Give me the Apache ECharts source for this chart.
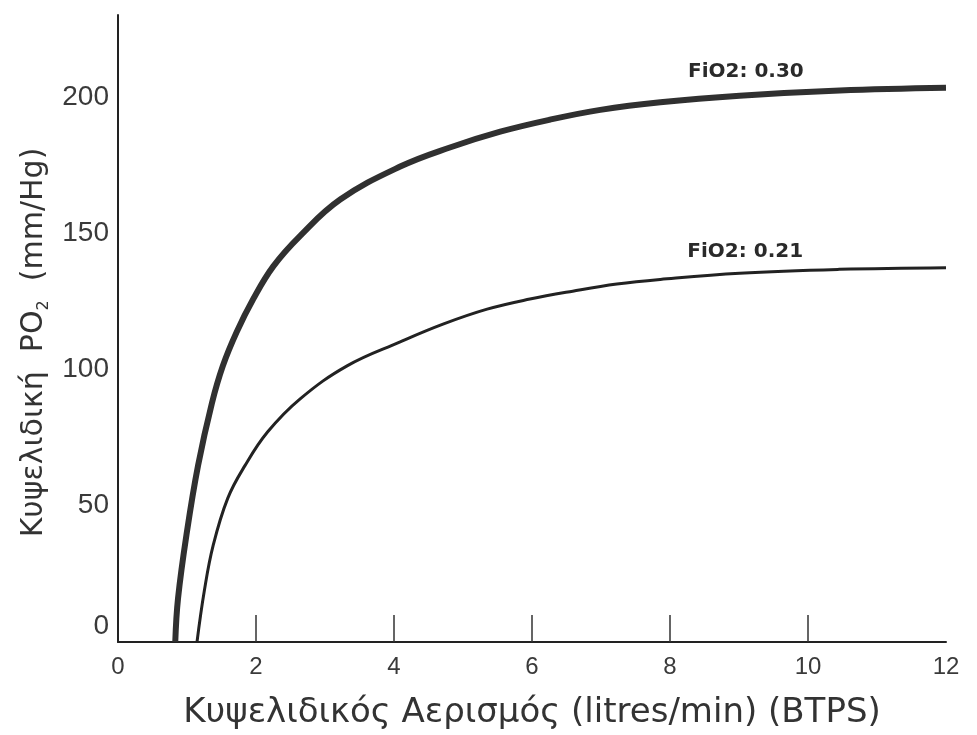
<!DOCTYPE html>
<html>
<head>
<meta charset="utf-8">
<title>Κυψελιδική PO2</title>
<script src="https://cdn.jsdelivr.net/npm/echarts@6/dist/echarts.min.js"></script>
<style>
  html, body { margin: 0; padding: 0; background: #fff; }
  #chart { width: 977px; height: 735px; }
</style>
</head>
<body>
<div id="chart"></div>
<script>
// FiO2 0.30 (παχιά γραμμή)
const ventilation030 = [0.83, 0.87, 1.0, 1.16, 1.36, 1.52, 1.72, 1.96, 2.25, 2.64, 3.22, 4.09, 4.81, 5.54, 6.26, 6.99, 7.86, 9.01, 10.46, 12.0]
const po2_030 = [0, 16, 40.6, 64.7, 87.5, 101.3, 113.7, 125.8, 137.8, 149, 162.3, 174.4, 181.4, 187.2, 191.6, 195.2, 198.0, 200.4, 202.3, 203.3]

// FiO2 0.21
const ventilation021 = [1.145, 1.25, 1.38, 1.59, 1.84, 2.17, 2.64, 3.32, 4.09, 4.71, 5.35, 5.97, 6.59, 7.23, 7.86, 9.01, 10.46, 12.0]
const po2_021 = [0, 18.6, 35.5, 52.7, 64.7, 77.1, 89.2, 101.3, 110.1, 116.6, 122.1, 125.8, 128.7, 131.3, 133.0, 135.3, 136.7, 137.3]

const xTicks = [0, 2, 4, 6, 8, 10, 12]
const yTicks = [0, 50, 100, 150, 200]

const zip = (xs, ys) => xs.map((x, i) => [x, ys[i]])

const chart = echarts.init(document.getElementById('chart'))
const font = 'Liberation Sans, Arial, sans-serif'
const wideFont = 'DejaVu Sans, Verdana, sans-serif'

const curveLabel = (text, coord) => ({
  symbol: 'circle',
  symbolSize: 0,
  data: [{
    coord: coord,
    label: {
      show: true,
      position: 'inside',
      formatter: text,
      color: '#2a2a2a',
      fontFamily: wideFont,
      fontWeight: 'bold',
      fontSize: 20
    }
  }]
})

const options = {
  animation: false,
  backgroundColor: '#fff',
  grid: {
    left: 118,
    right: 31,
    top: 15,
    bottom: 91
  },
  xAxis: {
    type: 'value',
    min: 0,
    max: 12,
    interval: 2,
    name: 'Κυψελιδικός Αερισμός (litres/min) (BTPS)',
    nameLocation: 'middle',
    nameGap: 54,
    nameTextStyle: {
      color: '#333',
      fontFamily: wideFont,
      fontSize: 34
    },
    axisLine: {
      show: true,
      lineStyle: { color: '#222', width: 2 }
    },
    axisTick: {
      show: true,
      inside: true,
      length: 27,
      customValues: [2, 4, 6, 8, 10],
      lineStyle: { color: '#333', width: 1.5 }
    },
    axisLabel: {
      customValues: xTicks,
      color: '#3a3a3a',
      fontFamily: font,
      fontSize: 24,
      margin: 13
    },
    splitLine: { show: false }
  },
  yAxis: {
    type: 'value',
    min: 0,
    max: 230,
    name: '{a|Κυψελιδική  PO}{s|2}{a|  (mm/Hg)}',
    nameLocation: 'middle',
    nameRotate: 90,
    nameGap: 63,
    nameTextStyle: {
      padding: [0, 28, 0, 0],
      rich: {
        a: { color: '#333', fontFamily: wideFont, fontSize: 30, lineHeight: 35 },
        s: { color: '#333', fontFamily: wideFont, fontSize: 16, lineHeight: 15, verticalAlign: 'bottom' }
      }
    },
    axisLine: {
      show: true,
      lineStyle: { color: '#222', width: 2 }
    },
    axisTick: { show: false },
    axisLabel: {
      customValues: yTicks,
      margin: 9,
      formatter: (v) => (v === 0 ? '{z|0}' : '{n|' + v + '}'),
      rich: {
        n: { color: '#3a3a3a', fontFamily: font, fontSize: 28 },
        z: { color: '#3a3a3a', fontFamily: font, fontSize: 28, padding: [0, 0, 32, 0] }
      }
    },
    splitLine: { show: false }
  },
  series: [
    {
      name: 'FiO2: 0.30',
      type: 'line',
      data: zip(ventilation030, po2_030),
      smooth: 0.4,
      showSymbol: false,
      symbol: 'none',
      lineStyle: { color: '#303030', width: 6 },
      markPoint: curveLabel('FiO2: 0.30', [9.1, 209])
    },
    {
      name: 'FiO2: 0.21',
      type: 'line',
      data: zip(ventilation021, po2_021),
      smooth: 0.4,
      showSymbol: false,
      symbol: 'none',
      lineStyle: { color: '#222', width: 3 },
      markPoint: curveLabel('FiO2: 0.21', [9.09, 143.3])
    }
  ]
}

chart.setOption(options)
</script>
</body>
</html>
